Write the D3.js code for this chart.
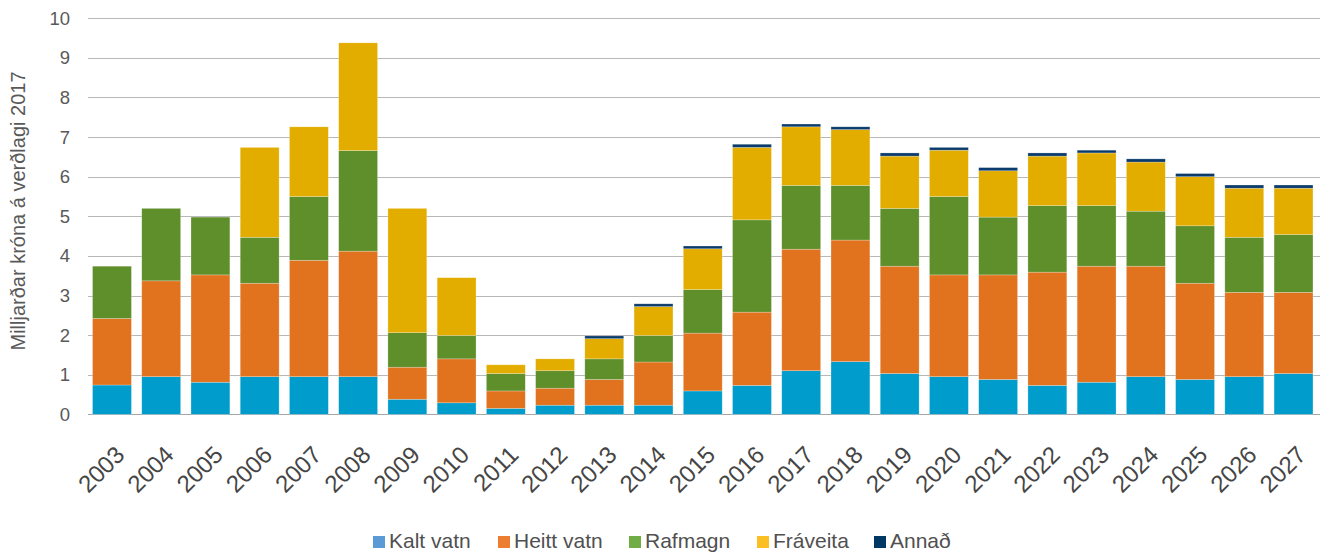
<!DOCTYPE html>
<html>
<head>
<meta charset="utf-8">
<script src="https://cdn.jsdelivr.net/npm/d3@7"></script>
<style>
  body { margin: 0; background: #fff; }
  svg { display: block; font-family: "Liberation Sans", Arial, sans-serif; }
</style>
</head>
<body>
<div id="chart"></div>
<script>
// years on the x axis
const years = ["2003","2004","2005","2006","2007","2008","2009","2010","2011","2012","2013","2014","2015",
  "2016","2017","2018","2019","2020","2021","2022","2023","2024","2025","2026","2027"]
// series values, milljarðar króna
const kaltVatn  = [0.74,0.95,0.81,0.95,0.95,0.95,0.38,0.29,0.15,0.23,0.23,0.23,0.59,0.73,1.10,1.33,1.03,0.95,0.88,0.73,0.81,0.95,0.88,0.95,1.03]
const heittVatn = [1.68,2.42,2.71,2.36,2.94,3.17,0.81,1.11,0.44,0.43,0.65,1.09,1.46,1.85,3.07,3.07,2.71,2.57,2.64,2.86,2.93,2.79,2.43,2.13,2.05]
const rafmagn   = [1.32,1.83,1.46,1.16,1.61,2.54,0.87,0.59,0.44,0.44,0.52,0.67,1.10,2.33,1.61,1.38,1.46,1.98,1.46,1.68,1.53,1.39,1.45,1.39,1.46]
const fraveita  = [0,0,0,2.27,1.76,2.72,3.14,1.46,0.22,0.30,0.51,0.73,1.03,1.83,1.48,1.41,1.32,1.17,1.17,1.25,1.33,1.24,1.24,1.24,1.17]
const annad     = [0,0,0,0,0,0,0,0,0,0,0.07,0.07,0.07,0.08,0.07,0.07,0.08,0.07,0.08,0.08,0.07,0.08,0.08,0.08,0.08]
const yTicks = [0,1,2,3,4,5,6,7,8,9,10]

const seriesNames = ["Kalt vatn","Heitt vatn","Rafmagn","Fráveita","Annað"]
const barColors = ["#009dcc","#e2731e","#5f8f2b","#e3ad00","#0b3b6b"]
const legendColors = ["#5b9bd5","#ed7d31","#70ad47","#fbbf24","#003764"]

const width = 1324, height = 554
const margin = {top: 18.3, right: 4, bottom: 139.7, left: 88}
const gridRight = 1320

// build rows for the stack
const seriesArrays = [kaltVatn, heittVatn, rafmagn, fraveita, annad]
const rows = years.map((yr, i) => {
    let r = {year: yr}
    seriesNames.forEach((s, k) => { r[s] = seriesArrays[k][i] })
    return r
})
const stacked = d3.stack().keys(seriesNames)(rows)

const x = d3.scaleBand().domain(years).range([margin.left, 1317.5]).paddingInner(0.21).paddingOuter(0.092)
const y = d3.scaleLinear().domain([0, 10]).range([height - margin.bottom, margin.top])

const svg = d3.select("#chart").append("svg")
    .attr("width", width)
    .attr("height", height)

// gridlines
svg.append("g")
    .selectAll("line")
    .data(yTicks)
    .join("line")
    .attr("x1", margin.left)
    .attr("x2", gridRight)
    .attr("y1", d => Math.round(y(d)) + 0.5)
    .attr("y2", d => Math.round(y(d)) + 0.5)
    .attr("stroke", d => d == 0 ? "#a6a6a6" : "#b8b8b8")
    .attr("stroke-width", 1.2)

// y axis labels
let yAxis = g => g.attr("transform", `translate(70,0)`)
    .call(d3.axisLeft(y).tickValues(yTicks).tickSize(0).tickPadding(0))
    .call(g => g.select(".domain").remove())
svg.append("g").call(yAxis)
    .selectAll("text")
    .attr("font-size", 18.5)
    .attr("fill", "#595959")
    .attr("font-family", "Liberation Sans, Arial, sans-serif")

// y axis title
svg.append("text")
    .attr("transform", `translate(25,211) rotate(-90)`)
    .attr("text-anchor", "middle")
    .attr("font-size", 20)
    .attr("fill", "#595959")
    .text("Milljarðar króna á verðlagi 2017")

// bars
for (let k = 0; k < stacked.length; k++) {
    svg.append("g")
        .attr("fill", barColors[k])
        .selectAll("rect")
        .data(stacked[k].filter(d => d[1] - d[0] > 0))
        .join("rect")
        .attr("x", d => x(d.data.year))
        .attr("width", x.bandwidth())
        .attr("y", d => y(d[1]))
        .attr("height", d => y(d[0]) - y(d[1]))
        .attr("stroke", "#ffffff")
        .attr("stroke-opacity", 0.4)
        .attr("stroke-width", 0.6)
}

// x axis labels
let xAxis = g => g.attr("transform", `translate(0,${height - margin.bottom})`)
    .call(d3.axisBottom(x).tickSize(0).tickPadding(0))
    .call(g => g.select(".domain").remove())
svg.append("g").call(xAxis)
    .selectAll("text")
    .attr("font-size", 24)
    .attr("fill", "#454545")
    .attr("font-family", "Liberation Sans, Arial, sans-serif")
    .attr("text-anchor", "end")
    .attr("y", 0)
    .attr("dy", 0)
    .attr("transform", "translate(14,42) rotate(-45)")

// legend
const legendX = [373, 498, 629, 757, 874]
const legend = svg.append("g")
seriesNames.forEach((s, k) => {
    legend.append("rect")
        .attr("x", legendX[k])
        .attr("y", 536)
        .attr("width", 12)
        .attr("height", 12)
        .attr("fill", legendColors[k])
    legend.append("text")
        .attr("x", legendX[k] + 16)
        .attr("y", 548)
        .attr("font-size", 21)
        .attr("fill", "#505050")
        .text(s)
})
</script>
</body>
</html>
